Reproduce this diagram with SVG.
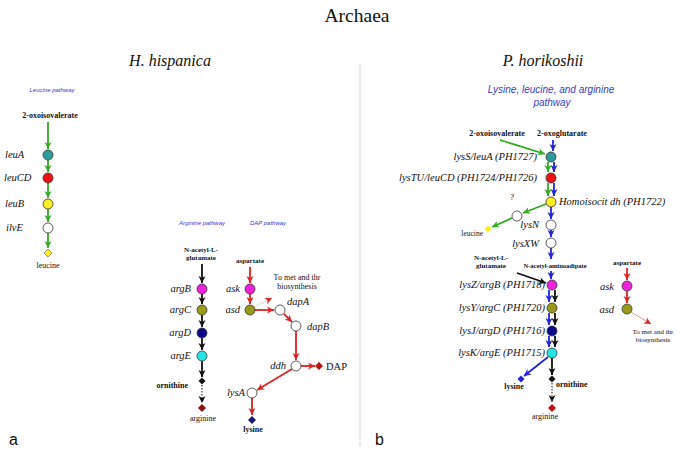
<svg xmlns="http://www.w3.org/2000/svg" width="685" height="451" viewBox="0 0 685 451">
<style>
text{font-family:"Liberation Serif","Times New Roman",serif;fill:#111}
.title{font-size:19.5px}
.sp{font-size:16px;font-style:italic}
.panel{font-family:"Liberation Sans",Arial,sans-serif;font-size:16px}
.pl{font-family:"Liberation Sans",Arial,sans-serif;font-style:italic;font-size:6px;fill:#3a3ac8;text-anchor:middle}
.pl2{font-family:"Liberation Sans",Arial,sans-serif;font-style:italic;font-size:10px;fill:#3a3ac8;text-anchor:middle}
.met{font-weight:bold;font-size:8px;text-anchor:middle}
.met7{font-weight:bold;font-size:7px;text-anchor:middle}
.prod{font-size:8px;text-anchor:middle}
.g{font-style:italic;font-size:10.5px}
.ge{font-style:italic;font-size:10.5px;text-anchor:end}
.note{font-size:8px;text-anchor:middle}
.note7{font-size:7px;text-anchor:middle}
.ln{fill:none;stroke-width:1.8}
.gr{stroke:#33aa22;marker-end:url(#aG)}
.bl{stroke:#2222dd;marker-end:url(#aB)}
.rd{stroke:#dd2222;marker-end:url(#aR)}
.bk{stroke:#111;marker-end:url(#aK)}
.dot{stroke:#111;stroke-width:1;stroke-dasharray:1.5,1.5;fill:none;marker-end:url(#aK)}
.lr{stroke:#e49a8c;stroke-width:1;fill:none;marker-end:url(#aR)}
.lrd{stroke:#e49a8c;stroke-width:1;stroke-dasharray:1.5,1.5;fill:none;marker-end:url(#aR)}
circle{stroke:#333;stroke-width:0.8}
.teal{fill:#2e9a9a}.red{fill:#ee1111}.yel{fill:#ffee22}.wht{fill:#fff}
.mag{fill:#ee22dd}.olv{fill:#9a9a1a}.nav{fill:#0a0a8a}.cyn{fill:#22e6e6}
</style>
<defs>
<marker id="aG" markerUnits="userSpaceOnUse" markerWidth="8" markerHeight="8" refX="7" refY="4" orient="auto"><path d="M0,0.5 L7,4 L0,7.5 L2,4 z" fill="#33aa22"/></marker>
<marker id="aB" markerUnits="userSpaceOnUse" markerWidth="8" markerHeight="8" refX="7" refY="4" orient="auto"><path d="M0,0.5 L7,4 L0,7.5 L2,4 z" fill="#2222dd"/></marker>
<marker id="aR" markerUnits="userSpaceOnUse" markerWidth="8" markerHeight="8" refX="7" refY="4" orient="auto"><path d="M0,0.5 L7,4 L0,7.5 L2,4 z" fill="#dd2222"/></marker>
<marker id="aK" markerUnits="userSpaceOnUse" markerWidth="8" markerHeight="8" refX="7" refY="4" orient="auto"><path d="M0,0.5 L7,4 L0,7.5 L2,4 z" fill="#111"/></marker>
</defs>
<rect width="685" height="451" fill="#fff"/>
<text class="title" x="357" y="22" text-anchor="middle">Archaea</text>
<text class="sp" x="170" y="66" text-anchor="middle">H. hispanica</text>
<text class="sp" x="543" y="66" text-anchor="middle">P. horikoshii</text>
<line x1="360" y1="65" x2="360" y2="447" stroke="#bbb" stroke-width="1" stroke-dasharray="1,1"/>
<text class="panel" x="9" y="445">a</text>
<text class="panel" x="375" y="445">b</text>

<g id="connectors">
<!-- leucine left -->
<line class="ln gr" x1="48" y1="122" x2="48" y2="149"/>
<line class="ln gr" x1="48" y1="160" x2="48" y2="172"/>
<line class="ln gr" x1="48" y1="183" x2="48" y2="198"/>
<line class="ln gr" x1="48" y1="209" x2="48" y2="222"/>
<line class="ln gr" x1="48" y1="233" x2="48" y2="248"/>
<!-- arginine left -->
<line class="ln bk" x1="202" y1="264" x2="202" y2="283"/>
<line class="ln bk" x1="202" y1="294" x2="202" y2="304"/>
<line class="ln bk" x1="202" y1="315" x2="202" y2="327"/>
<line class="ln bk" x1="202" y1="338" x2="202" y2="350"/>
<line class="ln bk" x1="202" y1="361" x2="202" y2="377"/>
<line class="dot" x1="202" y1="385" x2="202" y2="403"/>
<!-- DAP left -->
<line class="ln rd" x1="250" y1="267" x2="250" y2="283"/>
<line class="ln rd" x1="250" y1="294" x2="250" y2="304"/>
<line class="ln rd" x1="255" y1="310" x2="274" y2="310"/>
<line class="lrd" x1="254" y1="307" x2="272" y2="298"/>
<line class="ln rd" x1="284" y1="314" x2="292" y2="322"/>
<line class="ln rd" x1="296" y1="331" x2="296" y2="360"/>
<line class="ln rd" x1="301" y1="366" x2="315" y2="366"/>
<line class="ln rd" x1="292" y1="369" x2="257" y2="390"/>
<line class="ln rd" x1="252" y1="398" x2="252" y2="415"/>
<!-- right: leucine/lysine -->
<line class="ln gr" x1="500" y1="140" x2="545" y2="154"/>
<line class="ln bl" x1="553" y1="140" x2="553" y2="151"/>
<line class="ln gr" x1="548" y1="162" x2="548" y2="172"/>
<line class="ln bl" x1="554" y1="162" x2="554" y2="172"/>
<line class="ln gr" x1="548" y1="183" x2="548" y2="196"/>
<line class="ln bl" x1="554" y1="183" x2="554" y2="196"/>
<line class="ln gr" x1="546" y1="204" x2="523" y2="213"/>
<line class="ln gr" x1="512" y1="218" x2="492" y2="227"/>
<line class="ln bl" x1="551" y1="207" x2="551" y2="219"/>
<line class="ln bl" x1="551" y1="230" x2="551" y2="237"/>
<line class="ln bl" x1="551" y1="248" x2="551" y2="259"/>
<line class="ln bl" x1="551" y1="271" x2="551" y2="279"/>
<line class="ln bk" x1="517" y1="273" x2="546" y2="283"/>
<line class="ln bk" x1="555" y1="290" x2="555" y2="302"/>
<line class="ln bl" x1="549" y1="290" x2="549" y2="302"/>
<line class="ln bk" x1="555" y1="313" x2="555" y2="325"/>
<line class="ln bl" x1="549" y1="313" x2="549" y2="325"/>
<line class="ln bk" x1="555" y1="336" x2="555" y2="347"/>
<line class="ln bl" x1="549" y1="336" x2="549" y2="347"/>
<line class="ln bl" x1="548" y1="357" x2="524" y2="376"/>
<line class="ln bk" x1="552" y1="358" x2="552" y2="375"/>
<line class="dot" x1="552" y1="383" x2="552" y2="402"/>
<!-- right DAP -->
<line class="ln rd" x1="627" y1="268" x2="627" y2="280"/>
<line class="ln rd" x1="627" y1="291" x2="627" y2="303"/>
<line class="lr" x1="631" y1="312" x2="651" y2="324"/>
</g>

<g id="leucine-pathway-hh">
<text class="pl" x="52" y="92">Leucine pathway</text>
<text class="met" x="50" y="118">2-oxoisovalerate</text>
<g id="leuA"><circle class="teal" cx="48" cy="155" r="5"/><text class="g" x="5" y="158">leuA</text></g>
<g id="leuCD"><circle class="red" cx="48" cy="178" r="5"/><text class="g" x="4" y="181">leuCD</text></g>
<g id="leuB"><circle class="yel" cx="48" cy="204" r="5"/><text class="g" x="5" y="207">leuB</text></g>
<g id="ilvE"><circle class="wht" cx="48" cy="228" r="5"/><text class="g" x="6" y="231">ilvE</text></g>
<g id="leucine-hh"><polygon points="48,249 52,253 48,257 44,253" fill="#ffee22" stroke="#555" stroke-width="0.6"/><text class="prod" x="48" y="268">leucine</text></g>
</g>

<g id="arginine-pathway-hh">
<text class="pl" x="202" y="225">Arginine pathway</text>
<text class="met7" x="201" y="252">N-acetyl-L-</text>
<text class="met7" x="201" y="260">glutamate</text>
<g id="argB"><circle class="mag" cx="202" cy="289" r="5"/><text class="ge" x="191" y="292">argB</text></g>
<g id="argC"><circle class="olv" cx="202" cy="310" r="5"/><text class="ge" x="191" y="313">argC</text></g>
<g id="argD"><circle class="nav" cx="202" cy="333" r="5"/><text class="ge" x="191" y="336">argD</text></g>
<g id="argE"><circle class="cyn" cx="202" cy="356" r="5"/><text class="ge" x="191" y="359">argE</text></g>
<g id="ornithine-hh"><polygon points="202,377.5 205.5,381 202,384.5 198.5,381" fill="#111"/><text class="met" x="188" y="388" text-anchor="end" style="text-anchor:end">ornithine</text></g>
<g id="arginine-hh"><polygon points="202,404 206,408 202,412 198,408" fill="#8b1010"/><text class="prod" x="203" y="421">arginine</text></g>
</g>

<g id="dap-pathway-hh">
<text class="pl" x="268" y="225">DAP pathway</text>
<text class="met7" x="250" y="263">aspartate</text>
<g id="ask-hh"><circle class="mag" cx="250" cy="289" r="5"/><text class="ge" x="240" y="292">ask</text></g>
<g id="asd-hh"><circle class="olv" cx="250" cy="310" r="5"/><text class="ge" x="240" y="313">asd</text></g>
<g id="met-thr-hh"><text class="note" x="297" y="280">To met and thr</text><text class="note" x="297" y="289">biosynthesis</text></g>
<g id="dapA"><circle class="wht" cx="280" cy="310" r="5"/><text class="g" x="287" y="305">dapA</text></g>
<g id="dapB"><circle class="wht" cx="296" cy="326" r="5"/><text class="g" x="307" y="330">dapB</text></g>
<g id="ddh"><circle class="wht" cx="296" cy="366" r="5"/><text class="ge" x="286" y="369">ddh</text></g>
<g id="DAP"><polygon points="319,362 323,366 319,370 315,366" fill="#c01010"/><text x="326" y="370" font-size="10.5">DAP</text></g>
<g id="lysA"><circle class="wht" cx="252" cy="393" r="5"/><text class="ge" x="245" y="396">lysA</text></g>
<g id="lysine-hh"><polygon points="252,416 256,420 252,424 248,420" fill="#1a1a70"/><text class="met" x="253" y="432">lysine</text></g>
</g>

<g id="pathway-ph">
<text class="pl2" x="551" y="93">Lysine, leucine, and arginine</text>
<text class="pl2" x="552" y="106">pathway</text>
<text class="met" x="497" y="136">2-oxoisovalerate</text>
<text class="met" x="562" y="136">2-oxoglutarate</text>
<g id="lysS"><circle class="teal" cx="551" cy="157" r="5"/><text class="ge" x="537" y="160">lysS/leuA (PH1727)</text></g>
<g id="lysTU"><circle class="red" cx="551" cy="178" r="5"/><text class="ge" x="537" y="181">lysTU/leuCD (PH1724/PH1726)</text></g>
<g id="homoisocit"><circle class="yel" cx="551" cy="202" r="5"/><text class="g" x="559" y="205" font-size="11">Homoisocit dh (PH1722)</text></g>
<g id="unknown"><circle class="wht" cx="517" cy="216" r="5"/><text x="512" y="200" font-size="9" text-anchor="middle">?</text></g>
<g id="leucine-ph"><polygon points="488,225.5 491.5,229 488,232.5 484.5,229" fill="#ffee22"/><text x="483" y="236" font-size="7.5" text-anchor="end">leucine</text></g>
<g id="lysN"><circle class="wht" cx="551" cy="225" r="5"/><text class="ge" x="539" y="228">lysN</text></g>
<g id="lysXW"><circle class="wht" cx="551" cy="243" r="5"/><text class="ge" x="539" y="247">lysXW</text></g>
<text class="met" x="555" y="268" font-size="6.5" style="font-size:6.5px">N-acetyl-aminoadipate</text>
<text class="met7" x="491" y="260">N-acetyl-L-</text>
<text class="met7" x="491" y="268">glutamate</text>
<g id="lysZ"><circle class="mag" cx="552" cy="285" r="5"/><text class="ge" x="545" y="288">lysZ/argB (PH1718)</text></g>
<g id="lysY"><circle class="olv" cx="552" cy="308" r="5"/><text class="ge" x="545" y="311">lysY/argC (PH1720)</text></g>
<g id="lysJ"><circle class="nav" cx="552" cy="331" r="5"/><text class="ge" x="545" y="334">lysJ/argD (PH1716)</text></g>
<g id="lysK"><circle class="cyn" cx="552" cy="353" r="5"/><text class="ge" x="545" y="356">lysK/argE (PH1715)</text></g>
<g id="lysine-ph"><polygon points="521,375.5 524.5,379 521,382.5 517.5,379" fill="#2222dd"/><text class="met" x="514" y="389">lysine</text></g>
<g id="ornithine-ph"><polygon points="552,375.5 555.5,379 552,382.5 548.5,379" fill="#111"/><text class="met" x="556" y="387" style="text-anchor:start">ornithine</text></g>
<g id="arginine-ph"><polygon points="552,404 556,408 552,412 548,408" fill="#c01010"/><text class="prod" x="545" y="419">arginine</text></g>
</g>

<g id="dap-ph">
<text class="met7" x="627" y="265">aspartate</text>
<g id="ask-ph"><circle class="mag" cx="627" cy="286" r="5"/><text class="ge" x="614" y="290">ask</text></g>
<g id="asd-ph"><circle class="olv" cx="627" cy="309" r="5"/><text class="ge" x="614" y="313">asd</text></g>
<g id="met-thr-ph"><text class="note7" x="653" y="334">To met and thr</text><text class="note7" x="653" y="342">biosynthesis</text></g>
</g>
</svg>
